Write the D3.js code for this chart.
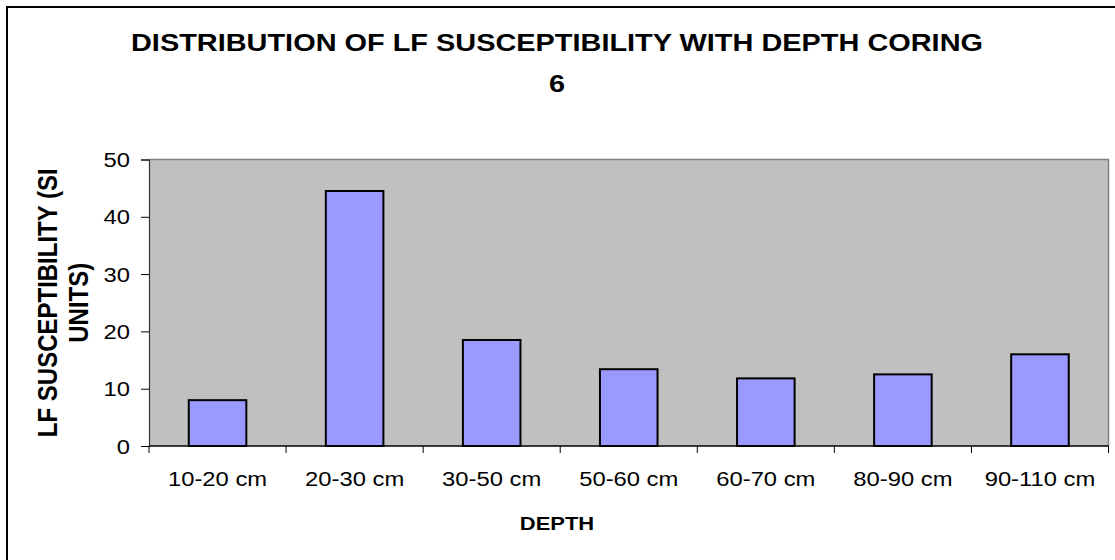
<!DOCTYPE html>
<html>
<head>
<meta charset="utf-8">
<script src="https://cdn.jsdelivr.net/npm/d3@7"></script>
<style>
  body { margin: 0; background: #fff; }
  svg { display: block; font-family: "Liberation Sans", Arial, sans-serif; }
</style>
</head>
<body>
<svg width="1115" height="560"></svg>
<script>
// Data
const categories = ["10-20 cm", "20-30 cm", "30-50 cm", "50-60 cm", "60-70 cm", "80-90 cm", "90-110 cm"];
const values = [8, 44.5, 18.5, 13.4, 11.8, 12.5, 16];
const yTicks = [0, 10, 20, 30, 40, 50];

const svg = d3.select("svg");
// the source picture is a bit wider than tall, so text gets squeezed out horizontally
const SX = 1.22;

// outer chart border (runs off the right/bottom of the picture)
svg.append("rect")
    .attr("x", 7).attr("y", 7)
    .attr("width", 1120).attr("height", 570)
    .attr("fill", "none")
    .attr("stroke", "#000")
    .attr("stroke-width", 2);

const plot = {left: 149, top: 159.5, right: 1108.5, bottom: 446};

const x = d3.scaleBand()
    .domain(categories)
    .range([plot.left, plot.right])
    .paddingInner(0.58)
    .paddingOuter(0.29);

const xStep = (plot.right - plot.left) / categories.length;

const y = d3.scaleLinear()
    .domain([0, 50])
    .range([plot.bottom, plot.top]);

// plot area
svg.append("rect")
    .attr("x", plot.left).attr("y", plot.top)
    .attr("width", plot.right - plot.left)
    .attr("height", plot.bottom - plot.top)
    .attr("fill", "#c0c0c0");

svg.append("path")
    .attr("d", `M${plot.left},${plot.top}H${plot.right}V${plot.bottom}`)
    .attr("fill", "none")
    .attr("stroke", "#808080")
    .attr("stroke-width", 1.5);

// bars
svg.append("g").selectAll("rect")
  .data(values)
  .join("rect")
    .attr("x", (d, i) => x(categories[i]))
    .attr("y", d => y(d))
    .attr("width", x.bandwidth())
    .attr("height", d => y(0) - y(d))
    .attr("fill", "#9999ff")
    .attr("stroke", "#000")
    .attr("stroke-width", 2);

// y axis
const yAxis = svg.append("g")
    .attr("transform", `translate(${plot.left},0)`)
    .call(d3.axisLeft(y).tickValues(yTicks).tickSize(8).tickPadding(0));
yAxis.select(".domain").attr("stroke", "#333").attr("stroke-width", 1.2);
yAxis.selectAll(".tick line").attr("stroke", "#000");
yAxis.selectAll(".tick text")
    .attr("x", null).attr("dy", null)
    .attr("transform", `translate(-19,7) scale(${SX},1)`)
    .attr("font-size", 19.5)
    .attr("font-family", "Liberation Sans, Arial, sans-serif")
    .attr("fill", "#000");

// x axis: baseline with ticks between categories
const xAxisG = svg.append("g");
xAxisG.append("line")
    .attr("x1", plot.left).attr("x2", plot.right)
    .attr("y1", plot.bottom).attr("y2", plot.bottom)
    .attr("stroke", "#000").attr("stroke-width", 1.5);
xAxisG.selectAll("line.tk")
  .data(d3.range(categories.length + 1))
  .join("line")
    .attr("class", "tk")
    .attr("x1", i => plot.left + i * xStep)
    .attr("x2", i => plot.left + i * xStep)
    .attr("y1", plot.bottom)
    .attr("y2", plot.bottom + 7)
    .attr("stroke", "#000");
xAxisG.selectAll("text")
  .data(categories)
  .join("text")
    .attr("transform", d => `translate(${x(d) + x.bandwidth() / 2},486) scale(${SX},1)`)
    .attr("text-anchor", "middle")
    .attr("font-size", 19.5)
    .text(d => d);

// title
const title = svg.append("g")
    .attr("font-size", 23.7)
    .attr("font-weight", "bold")
    .attr("text-anchor", "middle");
title.append("text").attr("transform", `translate(557,51) scale(${SX},1)`)
    .text("DISTRIBUTION OF LF SUSCEPTIBILITY WITH DEPTH CORING");
title.append("text").attr("transform", `translate(557,92) scale(${SX},1)`)
    .text("6");

// axis titles
svg.append("text")
    .attr("transform", `translate(557,530) scale(${SX},1)`)
    .attr("text-anchor", "middle")
    .attr("font-size", 18)
    .attr("font-weight", "bold")
    .text("DEPTH");

const yMid = (plot.top + plot.bottom) / 2;
const yTitle = svg.append("g")
    .attr("font-size", 24)
    .attr("font-weight", "bold")
    .attr("text-anchor", "middle");
yTitle.append("text")
    .attr("transform", `translate(57,${yMid}) scale(${SX * 0.95},1) rotate(-90)`)
    .text("LF SUSCEPTIBILITY (SI");
yTitle.append("text")
    .attr("transform", `translate(88,${yMid}) scale(${SX * 0.95},1) rotate(-90)`)
    .text("UNITS)");
</script>
</body>
</html>
